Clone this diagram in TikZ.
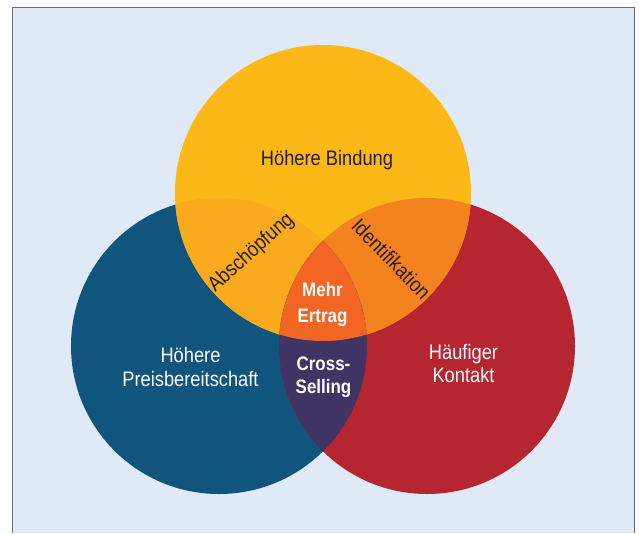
\documentclass[tikz,border=0pt]{standalone}
\usepackage{fontspec}
\setmainfont{Liberation Sans}[FakeStretch=0.87]
\definecolor{bgc}{HTML}{E0EAF6}
\definecolor{framec}{HTML}{6D6E71}
\definecolor{yelc}{HTML}{FBB817}
\definecolor{bluc}{HTML}{10557D}
\definecolor{redc}{HTML}{B52630}
\definecolor{ybc}{HTML}{F9AA1D}
\definecolor{yrc}{HTML}{F4821F}
\definecolor{brc}{HTML}{3F3463}
\definecolor{allc}{HTML}{F26522}
\definecolor{darktxt}{HTML}{231F20}
\begin{document}
\begin{tikzpicture}[x=1pt,y=-1pt,
  regtxt/.style={anchor=base,inner sep=0pt,font=\fontsize{21}{24}\selectfont},
  boldtxt/.style={anchor=base,inner sep=0pt,text=white,font=\fontsize{19.5}{24}\selectfont\bfseries},
  ontop/.style={regtxt,text=darktxt},
  onside/.style={regtxt,text=white}]
\useasboundingbox (0,0) rectangle (639,533);
\fill[white] (0,0) rectangle (639,533);
\fill[bgc] (12,7) rectangle (634,533);
\draw[framec,line width=1pt] (12,533) -- (12,7) -- (634,7) -- (634,533);
% centres
\coordinate (cy) at (323,193);
\coordinate (cb) at (219,346);
\coordinate (cr) at (427,346);
\def\rr{148pt}
% full circles
\fill[bluc] (cb) circle[radius=\rr];
\fill[redc] (cr) circle[radius=\rr];
\fill[yelc] (cy) circle[radius=\rr];
% yellow & blue
\begin{scope}
  \clip (cy) circle[radius=\rr];
  \fill[ybc] (cb) circle[radius=\rr];
\end{scope}
% yellow & red
\begin{scope}
  \clip (cy) circle[radius=\rr];
  \fill[yrc] (cr) circle[radius=\rr];
\end{scope}
% blue & red
\begin{scope}
  \clip (cb) circle[radius=\rr];
  \fill[brc] (cr) circle[radius=\rr];
\end{scope}
% all three
\begin{scope}
  \clip (cy) circle[radius=\rr];
  \clip (cb) circle[radius=\rr];
  \fill[allc] (cr) circle[radius=\rr];
\end{scope}
% labels
\node[ontop] (bind) at (327,165) {Höhere Bindung};
\node[onside] (preisA) at (190.5,362) {Höhere};
\node[onside] (preisB) at (190.5,386) {Preisbereitschaft};
\node[onside] (kontA) at (463.5,359) {Häufiger};
\node[onside] (kontB) at (463.5,382) {Kontakt};
\node[boldtxt] (mehrA) at (322.5,296) {Mehr};
\node[boldtxt] (mehrB) at (322.5,322) {Ertrag};
\node[boldtxt] (crossA) at (323.5,370) {Cross-};
\node[boldtxt] (crossB) at (323.5,393) {Selling};
\node[ontop,rotate=42] (absch) at (255,257) {Abschöpfung};
\node[ontop,rotate=-46] (ident) at (386,264) {Identifikation};
\end{tikzpicture}
\end{document}
